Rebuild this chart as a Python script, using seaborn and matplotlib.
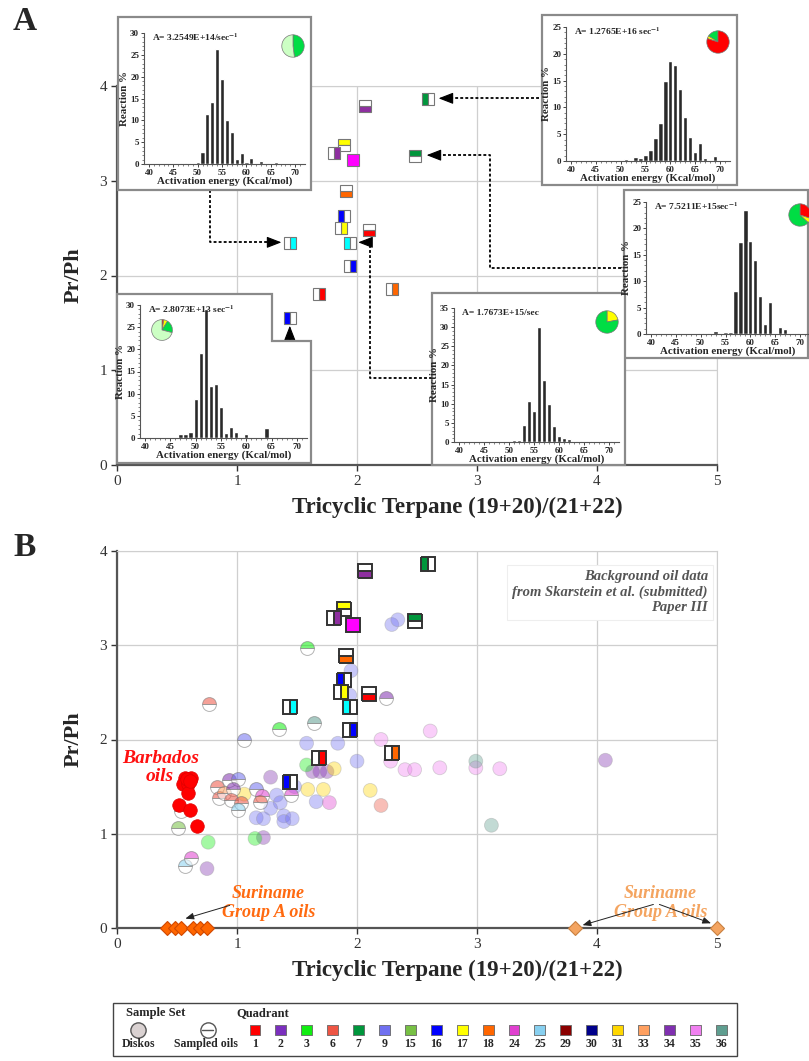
import numpy as np
import pandas as pd
import matplotlib
matplotlib.use("Agg")
import matplotlib.pyplot as plt
import seaborn as sns
from matplotlib.patches import Rectangle, Polygon

# ---------------- data ----------------
quad_labels = ['1', '2', '3', '6', '7', '9', '15', '16', '17', '18', '24', '25', '29', '30', '31', '33', '34', '35', '36']
quad_colors = ['#FF0000', '#7B2FBE', '#11EE11', '#EE5544', '#00963C', '#7070F0', '#77C044', '#0000FF', '#FFFF00',
               '#FF6600', '#E040D0', '#88D0F0', '#8B0000', '#00008B', '#FFD700', '#FFA060', '#8030B0', '#F080F0', '#5F9E90']

# studied (sampled) oils, shown as split squares
sq_x = [2.07, 2.59, 1.89, 1.81, 1.97, 2.48, 1.91, 1.89, 1.87, 2.10, 1.94, 1.94, 1.68, 2.29, 1.44, 1.44]
sq_y = [3.79, 3.86, 3.38, 3.29, 3.22, 3.26, 2.89, 2.63, 2.50, 2.48, 2.34, 2.10, 1.80, 1.86, 2.34, 1.55]
sq_color = ['#8E2FA0', '#00963C', '#FFFF00', '#8E2FA0', '#FF00FF', '#00963C', '#FF6600', '#0000FF',
            '#FFFF00', '#FF0000', '#00FFFF', '#0000FF', '#FF0000', '#FF6600', '#00FFFF', '#0000FF']
sq_half = ['bottom', 'left', 'top', 'right', 'full', 'top', 'bottom', 'left',
           'right', 'bottom', 'left', 'right', 'right', 'right', 'right', 'left']

# background oils (Diskos) - full circles
dk_x = [2.29, 2.34, 1.95, 1.94, 1.58, 1.84, 2.00, 1.48, 1.33, 1.36, 1.28, 1.16, 1.22, 1.39, 1.39, 1.46, 1.66,
        1.63, 1.69, 1.75, 1.28, 4.07, 0.75, 1.22,
        2.20, 2.61, 2.28, 2.40, 2.48, 2.69, 2.99, 3.19, 1.77,
        1.81, 1.59, 1.72, 2.11, 1.06,
        1.58, 0.76, 1.15,
        2.99, 3.12, 2.20]
dk_y = [3.22, 3.27, 2.73, 2.47, 1.96, 1.96, 1.77, 1.50, 1.41, 1.33, 1.27, 1.17, 1.16, 1.19, 1.13, 1.16, 1.34,
        1.66, 1.66, 1.66, 1.60, 1.78, 0.63, 0.96,
        2.00, 2.09, 1.77, 1.68, 1.68, 1.70, 1.70, 1.69, 1.33,
        1.69, 1.47, 1.47, 1.46, 1.42,
        1.73, 0.91, 0.95,
        1.77, 1.09, 1.30]
dk_quad = ['9'] * 17 + ['34'] * 7 + ['35'] * 8 + ['24'] + ['31'] * 5 + ['3'] * 3 + ['36', '36', '6']

# background oils (sampled) - half circles
so_x = [1.58, 0.77, 1.35, 1.64, 1.06, 2.24, 0.83, 0.93, 1.01, 0.85, 0.89, 0.97, 0.95, 1.03, 1.01, 1.16, 1.21,
        1.19, 1.45, 0.53, 0.51, 0.57, 0.62]
so_y = [2.97, 2.38, 2.11, 2.17, 1.99, 2.44, 1.50, 1.57, 1.58, 1.38, 1.43, 1.48, 1.36, 1.33, 1.25, 1.47, 1.40,
        1.34, 1.41, 1.24, 1.06, 0.66, 0.74]
so_quad = ['3', '6', '3', '36', '9', '34', '6', '34', '9', '6', '33', '34', '6', '6', '25', '9', '24',
           '6', '24', '15', '15', '25', '24']

# Barbados oils
barb_x = [0.57, 0.62, 0.55, 0.59, 0.59, 0.52, 0.61, 0.67, 0.58, 0.61]
barb_y = [1.59, 1.59, 1.53, 1.53, 1.43, 1.30, 1.25, 1.08, 1.58, 1.56]

# Suriname Group A oils
sur1_x = [0.42, 0.48, 0.53, 0.63, 0.69, 0.75]
sur2_x = [3.82, 5.00]

# activation energy distributions (Kcal/mol -> Reaction %)
energy = list(range(40, 71))
def _h(d):
    return [d.get(e, 0.0) for e in energy]
hist1 = _h({44: .1, 45: .1, 47: .2, 48: .2, 50: .5, 51: 2.8, 52: 11.5, 53: 14.3, 54: 26.3, 55: 19.4, 56: 10.1,
            57: 7.3, 58: 1.2, 59: 2.6, 60: .4, 61: 1.4, 62: .1, 63: .8, 64: .2, 66: .4})
hist2 = _h({40: .1, 47: .15, 49: .1, 50: .1, 51: .3, 53: .7, 54: .55, 55: 1.1, 56: 2.0, 57: 4.2, 58: 7.0,
            59: 14.9, 60: 18.75, 61: 17.9, 62: 13.4, 63: 8.25, 64: 4.5, 65: 1.6, 66: 3.4, 67: .6, 69: .9})
hist3 = _h({50: .1, 52: .1, 53: .5, 55: .4, 56: .4, 57: 8.1, 58: 17.4, 59: 23.5, 60: 17.6, 61: 14.0, 62: 7.2,
            63: 1.8, 64: 6.0, 66: 1.3, 67: 1.0, 70: .2})
hist4 = _h({44: .1, 45: .1, 47: .9, 48: .9, 49: 1.4, 50: 8.8, 51: 19.2, 52: 29.0, 53: 11.8, 54: 12.2, 55: 7.1,
            56: 1.2, 57: 2.5, 58: 1.4, 59: .3, 60: .8, 64: 2.2})
hist5 = _h({51: .5, 52: .5, 53: 4.5, 54: 10.6, 55: 8.1, 56: 30.0, 57: 16.1, 58: 9.8, 59: 4.1, 60: 1.5, 61: 1.1,
            62: .8, 63: .3, 64: .3, 66: .2, 70: .2})
freq_text = ['A= 3.2549E+14/sec$^{-1}$', 'A= 1.2765E+16 sec$^{-1}$', 'A= 7.5211E+15sec$^{-1}$',
             'A= 2.8073E+13 sec$^{-1}$', 'A= 1.7673E+15/sec']
PALE, GRN, RED, YEL = '#CCFFC4', '#00DD44', '#FF0000', '#FFFF00'
pie1 = [0.48, 0.52]; pie1_c = [GRN, PALE]
pie2 = [0.16, 0.04, 0.80]; pie2_c = [GRN, YEL, RED]
pie3 = [0.30, 0.07, 0.63]; pie3_c = [RED, YEL, GRN]
pie4 = [0.03, 0.06, 0.20, 0.71]; pie4_c = [RED, YEL, GRN, PALE]
pie5 = [0.22, 0.78]; pie5_c = [YEL, GRN]

# ---------------- style ----------------
sns.set_style('ticks')
plt.rcParams['font.family'] = ['Liberation Serif', 'DejaVu Serif']
plt.rcParams['mathtext.fontset'] = 'stix'
plt.rcParams['mathtext.default'] = 'bf'

W, H = 809, 1061
fig = plt.figure(figsize=(W / 100, H / 100), dpi=100)


def px_rect(l, t, r, b):
    return [l / W, 1 - b / H, (r - l) / W, (b - t) / H]


axA = fig.add_axes(px_rect(117, 86, 717, 465), zorder=1)
axB = fig.add_axes(px_rect(117, 551, 717, 928), zorder=1)


def style_main(ax):
    ax.set_xlim(0, 5)
    ax.set_ylim(0, 4)
    ax.set_xticks(range(6))
    ax.set_yticks(range(5))
    ax.grid(True, color='#cfcfcf', lw=0.9)
    ax.set_axisbelow(True)
    for s in ['top', 'right']:
        ax.spines[s].set_color('#cfcfcf')
    for s in ['left', 'bottom']:
        ax.spines[s].set_color('#555555')
        ax.spines[s].set_linewidth(1.6)
    ax.tick_params(direction='out', length=4, width=1, colors='#333333', labelsize=11, pad=3)
    ax.set_xlabel('Tricyclic Terpane (19+20)/(21+22)', fontsize=16.5, fontweight='bold')
    ax.set_ylabel('Pr/Ph', fontsize=16, fontweight='bold')
    ax.xaxis.set_label_coords(0.567, -0.084)
    ax.yaxis.set_label_coords(-0.055, 0.5)


def draw_squares(ax, ms, mew, mec):
    for x, y, c, h in zip(sq_x, sq_y, sq_color, sq_half):
        ax.plot([x], [y], marker='s', ms=ms, fillstyle=h, markerfacecolor=c, markerfacecoloralt='white',
                markeredgecolor=mec, markeredgewidth=mew, ls='none', zorder=6, clip_on=False)


# ---------------- panel A ----------------
style_main(axA)
draw_squares(axA, 8.5, 0.8, '#777777')


def dotted_path(ax, pts, head_to):
    xs = [p[0] for p in pts]
    ys = [p[1] for p in pts]
    ax.plot(xs, ys, ls=(0, (1.6, 1.2)), lw=1.3, color='k', clip_on=False, zorder=4)
    ax.annotate('', xy=head_to, xytext=pts[-1],
                arrowprops=dict(arrowstyle='-|>,head_length=0.9,head_width=0.35', color='k', lw=0.8,
                                shrinkA=0, shrinkB=0), annotation_clip=False, zorder=4)


dotted_path(axA, [(0.775, 2.90), (0.775, 2.35), (1.30, 2.35)], (1.37, 2.35))
dotted_path(axA, [(3.52, 3.87), (2.75, 3.87)], (2.68, 3.87))
dotted_path(axA, [(4.20, 2.08), (3.11, 2.08), (3.11, 3.27), (2.66, 3.27)], (2.58, 3.27))
dotted_path(axA, [(2.625, 0.92), (2.11, 0.92), (2.11, 2.35), (2.08, 2.35)], (2.01, 2.35))
dotted_path(axA, [(0.98, 0.92), (1.44, 0.92), (1.44, 1.40)], (1.44, 1.47))

# ---------------- panel B ----------------
pal = dict(zip(quad_labels, quad_colors))
dk = pd.DataFrame({'x': dk_x, 'y': dk_y, 'quad': dk_quad})
sns.scatterplot(data=dk, x='x', y='y', hue='quad', palette=pal, s=100, alpha=0.38, linewidth=0.6,
                edgecolor='#999999', legend=False, ax=axB, zorder=3)
for x, y, q in zip(so_x, so_y, so_quad):
    axB.plot([x], [y], marker='o', ms=10, fillstyle='top', markerfacecolor=pal[q], markerfacecoloralt='white',
             markeredgecolor='#777777', markeredgewidth=0.7, alpha=0.55, ls='none', zorder=3)
barb = pd.DataFrame({'x': barb_x, 'y': barb_y})
sns.scatterplot(data=barb, x='x', y='y', color='#FF0000', s=95, linewidth=0.5, edgecolor='#dd0000',
                ax=axB, zorder=4, legend=False)
axB.plot(sur1_x, [0] * len(sur1_x), marker='D', ms=7, color='#FF6600', mec='#D04800', mew=0.8, ls='none',
         clip_on=False, zorder=7)
axB.plot(sur2_x, [0] * len(sur2_x), marker='D', ms=7.5, color='#F4A460', mec='#C88040', mew=0.8, ls='none',
         clip_on=False, zorder=7)
draw_squares(axB, 10, 1.4, '#333333')
style_main(axB)

axB.text(4.925, 3.80, 'Background oil data\nfrom Skarstein et al. (submitted)\nPaper III', ha='right', va='top',
         fontsize=10.5, fontweight='bold', style='italic', color='#555555', linespacing=1.25, zorder=8,
         bbox=dict(boxstyle='square,pad=0.35', fc='white', ec='#eeeeee', lw=0.8))
axB.text(0.36, 1.70, 'Barbados\noils', ha='center', va='center', fontsize=14, fontweight='bold',
         style='italic', color='#FF1010', linespacing=1.1, zorder=8)
axB.text(1.26, 0.265, 'Suriname\nGroup A oils', ha='center', va='center', fontsize=13, fontweight='bold',
         style='italic', color='#FF6A10', linespacing=1.1, zorder=8)
axB.text(4.53, 0.265, 'Suriname\nGroup A oils', ha='center', va='center', fontsize=13, fontweight='bold',
         style='italic', color='#F4A460', linespacing=1.1, zorder=8)
for (x0, y0), (x1, y1) in [((0.94, 0.24), (0.57, 0.10)), ((4.47, 0.25), (3.88, 0.03)),
                           ((4.52, 0.25), (4.95, 0.05))]:
    axB.annotate('', xy=(x1, y1), xytext=(x0, y0),
                 arrowprops=dict(arrowstyle='-|>,head_length=0.5,head_width=0.2', color='#222222', lw=0.7,
                                 shrinkA=0, shrinkB=0), zorder=8)

# ---------------- overlay for boxes & legend ----------------
ov = fig.add_axes([0, 0, 1, 1], zorder=2)
ov.set_xlim(0, W)
ov.set_ylim(H, 0)
ov.axis('off')
box_kw = dict(fc='white', ec='#8a8a8a', lw=1.6)
ov.add_patch(Rectangle((118, 17), 311 - 118, 190 - 17, **box_kw))
ov.add_patch(Rectangle((542, 15), 737 - 542, 185 - 15, **box_kw))
ov.add_patch(Rectangle((624, 190), 808 - 624, 358 - 190, **box_kw))
ov.add_patch(Polygon([(117, 294), (272, 294), (272, 341), (311, 341), (311, 463), (117, 463)], closed=True,
                     **box_kw))
ov.add_patch(Rectangle((432, 293), 625 - 432, 465 - 293, **box_kw))

# legend
ov.add_patch(Rectangle((113, 1003), 737 - 113, 1056 - 1003, fc='white', ec='#444444', lw=1.0))
ov.text(126, 1013, 'Sample Set', fontsize=9, fontweight='bold', va='center', ha='left')
ov.text(236, 1013, 'Quadrant', fontsize=9, fontweight='bold', va='center', ha='left')
ov.plot([138], [1030], marker='o', ms=11, mfc='#DAD2D2', mec='#555555', mew=1, ls='none')
ov.text(138, 1044, 'Diskos', fontsize=8.5, fontweight='bold', va='center', ha='center')
ov.plot([208], [1030], marker='o', ms=11, mfc='white', mec='#555555', mew=1, ls='none')
ov.plot([202.5, 213.5], [1030, 1030], color='#555555', lw=1)
ov.text(206, 1044, 'Sampled oils', fontsize=8.5, fontweight='bold', va='center', ha='center')
leg_x = [255 + i * 25.9 for i in range(len(quad_labels))]
ov.scatter(leg_x, [1030] * len(leg_x), marker='s', s=62, c=quad_colors, edgecolors='#666666', linewidths=0.6)
for x, lab in zip(leg_x, quad_labels):
    ov.text(x, 1044, lab, fontsize=8.5, fontweight='bold', va='center', ha='center')

fig.text(25 / W, 1 - 22 / H, 'A', fontsize=24, fontweight='bold', ha='center', va='center')
fig.text(25 / W, 1 - 548 / H, 'B', fontsize=24, fontweight='bold', ha='center', va='center')

# ---------------- insets ----------------
inset_specs = [
    (hist1, (144, 33, 305, 164), 30, freq_text[0]),
    (hist2, (566, 27, 730, 161), 25, freq_text[1]),
    (hist3, (646, 202, 810, 334), 25, freq_text[2]),
    (hist4, (140, 305, 307, 438), 30, freq_text[3]),
    (hist5, (454, 308, 619, 442), 35, freq_text[4]),
]
for vals, rect, ymax, txt in inset_specs:
    ax = fig.add_axes(px_rect(*rect), zorder=3)
    ax.patch.set_alpha(0)
    sns.barplot(x=energy, y=vals, native_scale=True, color='#2a2a2a', saturation=1, width=0.85,
                errorbar=None, ax=ax)
    ax.set_xlim(39, 72)
    ax.set_ylim(0, ymax)
    ax.set_xticks(range(40, 71, 5))
    ax.set_yticks(range(0, ymax + 1, 5))
    ax.set_xticks(range(40, 72), minor=True)
    ax.set_yticks(range(0, ymax + 1), minor=True)
    for s in ['top', 'right']:
        ax.spines[s].set_visible(False)
    for s in ['left', 'bottom']:
        ax.spines[s].set_color('#555555')
        ax.spines[s].set_linewidth(0.8)
    ax.tick_params(which='major', length=2.5, width=0.6, labelsize=6.5, pad=1)
    ax.tick_params(which='minor', length=1.2, width=0.4)
    for lbl in ax.get_xticklabels() + ax.get_yticklabels():
        lbl.set_fontweight('bold')
    ax.set_xlabel('Activation energy (Kcal/mol)', fontsize=7.8, fontweight='bold', labelpad=0)
    ax.set_ylabel('Reaction %', fontsize=7.8, fontweight='bold', labelpad=1)
    ax.text(0.05, 0.965, txt, transform=ax.transAxes, fontsize=6.8, fontweight='bold', va='center', ha='left')

pie_specs = [(pie1, pie1_c, (293, 46, 14), False), (pie2, pie2_c, (718, 42, 14), True),
             (pie3, pie3_c, (800, 215, 14), False), (pie4, pie4_c, (162, 330, 13), False),
             (pie5, pie5_c, (607, 322, 14), False)]
for vals, cols, (cx, cy, r), ccw in pie_specs:
    pax = fig.add_axes(px_rect(cx - r, cy - r, cx + r, cy + r), zorder=4)
    pax.pie(vals, colors=cols, startangle=90, counterclock=ccw,
            wedgeprops=dict(edgecolor='#777777', linewidth=0.5))
    pax.set_aspect('equal')

fig.savefig('out.png', dpi=100)
